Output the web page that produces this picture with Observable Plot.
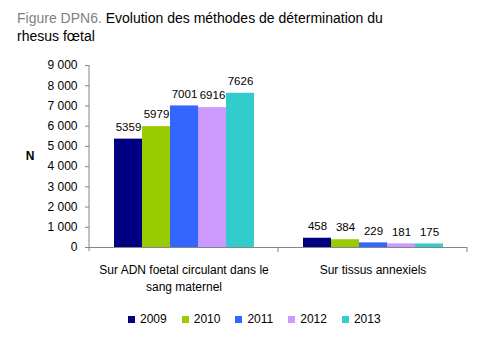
<!DOCTYPE html>
<html><head><meta charset="utf-8">
<script src="https://cdn.jsdelivr.net/npm/d3@7"></script>
<script src="https://cdn.jsdelivr.net/npm/@observablehq/plot@0.6"></script>
<style>
body{margin:0;background:#fff;width:482px;height:340px;overflow:hidden;font-family:"Liberation Sans",Arial,sans-serif;position:relative;}
#title{position:absolute;left:17px;top:9px;font-size:14px;line-height:18px;color:#000;}
#title .fig{color:#7f7f7f}
#chart{position:absolute;left:0;top:55px;}
#legend{position:absolute;top:311px;left:128px;display:flex;font-size:12px;line-height:16px;color:#000;}
#legend .item{display:flex;align-items:center;margin-right:15px;}
#legend .sw{width:7px;height:7px;margin-right:5px;}
</style></head>
<body>
<div id="title"><span class="fig">Figure DPN6.</span> Evolution des méthodes de détermination du<br>rhesus fœtal</div>
<div id="chart"></div>
<div id="legend"></div>
<script>
const categories = ["Sur ADN foetal circulant dans le sang maternel", "Sur tissus annexiels"];
const categoryLabels = ["Sur ADN foetal circulant dans le\nsang maternel", "Sur tissus annexiels"];
const years = ["2009", "2010", "2011", "2012", "2013"];
const adnValues = [5359, 5979, 7001, 6916, 7626];
const tissusValues = [458, 384, 229, 181, 175];
const colors = ["#000080", "#99cc00", "#3366ff", "#cc99ff", "#33cccc"];
const yTicks = [0, 1000, 2000, 3000, 4000, 5000, 6000, 7000, 8000, 9000];
const yLabel = "N";

const series = [adnValues, tissusValues];
const data = [];
categories.forEach((c, i) => years.forEach((y, j) => data.push({category: c, year: y, value: series[i][j]})));

const fmt = d3.formatLocale({decimal: ",", thousands: "\u00a0", grouping: [3], currency: ["", ""]}).format(",");

const plot = Plot.plot({
  width: 482, height: 250,
  marginLeft: 89, marginRight: 15, marginTop: 10, marginBottom: 58,
  style: {fontFamily: '"Liberation Sans", Arial, sans-serif', fontSize: "12px", color: "#000", background: "#fff"},
  fx: {domain: categories, padding: 0, axis: null},
  x: {domain: years, paddingInner: 0, paddingOuter: 0.76, axis: null},
  y: {domain: [0, 9000], ticks: yTicks, tickSize: 4, tickPadding: 8, tickFormat: fmt, label: null},
  color: {domain: years, range: colors},
  marks: [
    Plot.barY(data, {fx: "category", x: "year", y: "value", fill: "year"}),
    Plot.text(data, {fx: "category", x: "year", y: "value", text: d => String(d.value), dy: -12, fill: "#000", fontSize: 11.5}),
    Plot.ruleY([0], {stroke: "#868686"}),
    Plot.text(categories, {fx: d => d, text: d => categoryLabels[categories.indexOf(d)], frameAnchor: "bottom",
      lineAnchor: "top", dy: 15, lineHeight: 1.4, fill: "#000", fontSize: 12})
  ]
});
document.getElementById("chart").appendChild(plot);

// axis line, category boundary ticks, and N label, positioned from the scales
const svg = d3.select(plot);
const ys = plot.scale("y"), fxs = plot.scale("fx");
const y0 = ys.apply(0), yTop = ys.apply(9000);
const xLeft = fxs.apply(categories[0]);
svg.selectAll('[aria-label="y-axis tick"]').attr("stroke", "#868686");
svg.selectAll('[aria-label="y-axis tick"] path').attr("stroke", "#868686");
svg.append("line").attr("x1", xLeft).attr("x2", xLeft).attr("y1", yTop).attr("y2", y0 + 4).attr("stroke", "#868686");
categories.forEach(c => {
  const xe = fxs.apply(c) + fxs.bandwidth;
  svg.append("line").attr("x1", xe).attr("x2", xe).attr("y1", y0).attr("y2", y0 + 5).attr("stroke", "#868686");
});
svg.append("text").attr("x", 30).attr("y", ys.apply(4500)).attr("dy", "0.35em").attr("text-anchor", "middle")
  .attr("font-weight", "bold").attr("font-size", 12).attr("fill", "#000").text(yLabel);

const leg = document.getElementById("legend");
years.forEach((y, i) => {
  const it = document.createElement("div"); it.className = "item";
  const sw = document.createElement("div"); sw.className = "sw"; sw.style.background = colors[i];
  const t = document.createElement("span"); t.textContent = y;
  it.appendChild(sw); it.appendChild(t); leg.appendChild(it);
});
</script>
</body></html>
